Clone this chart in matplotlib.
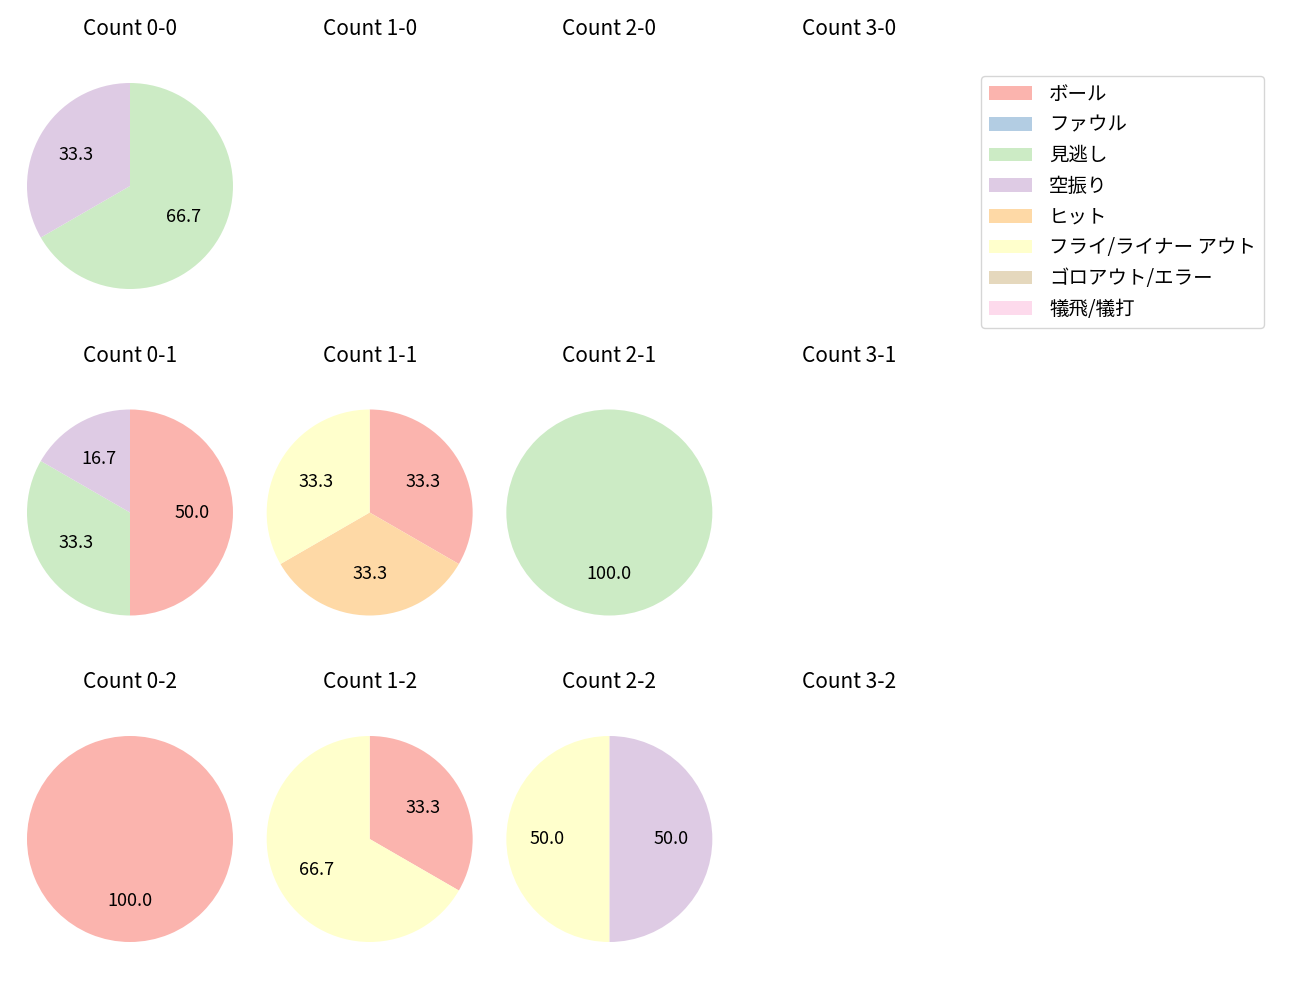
import matplotlib
matplotlib.use("Agg")
import matplotlib.pyplot as plt
from matplotlib.patches import Patch

plt.rcParams['font.family'] = ['Noto Sans CJK JP', 'DejaVu Sans']

categories = ["ボール", "ファウル", "見逃し", "空振り", "ヒット",
              "フライ/ライナー アウト", "ゴロアウト/エラー", "犠飛/犠打"]
colors = plt.get_cmap('Pastel1').colors[:len(categories)]

balls = [0, 1, 2, 3]
strikes = [0, 1, 2]

# counts per category for each ball-strike count (missing = no pitches)
counts = {
    (0, 0): [0, 0, 2, 1, 0, 0, 0, 0],
    (0, 1): [3, 0, 2, 1, 0, 0, 0, 0],
    (1, 1): [1, 0, 0, 0, 1, 1, 0, 0],
    (2, 1): [0, 0, 1, 0, 0, 0, 0, 0],
    (0, 2): [1, 0, 0, 0, 0, 0, 0, 0],
    (1, 2): [1, 0, 0, 0, 0, 2, 0, 0],
    (2, 2): [0, 0, 0, 1, 0, 1, 0, 0],
}

fig, axes = plt.subplots(3, 4, figsize=(13, 10), dpi=100)
# axes boxes 230x288 px, centred on the pie positions
fig.subplots_adjust(left=15 / 1300, right=964 / 1300, top=1 - 42 / 1000,
                    bottom=1 - 983 / 1000, wspace=9.7 / 230, hspace=38.5 / 288)

r_px = 103.0
for s in strikes:
    for b in balls:
        ax = axes[s][b]
        ax.set_title(f"Count {b}-{s}", fontsize=15, pad=5)
        vals = counts.get((b, s))
        if vals is not None:
            v = [x for x in vals if x > 0]
            c = [colors[i] for i, x in enumerate(vals) if x > 0]
            ax.pie(v, colors=c, startangle=90, counterclock=False,
                   autopct='%.1f', pctdistance=0.6, textprops={'fontsize': 13})
        ax.set_xlim(-115 / r_px, 115 / r_px)
        ax.set_ylim(-144 / r_px, 144 / r_px)
        ax.set_aspect('auto')
        ax.axis('off')

handles = [Patch(facecolor=colors[i], label=categories[i]) for i in range(len(categories))]
fig.legend(handles=handles, loc='upper left', bbox_to_anchor=(981 / 1300, 1 - 76 / 1000),
           fontsize=14, handlelength=2.2, handletextpad=0.9, borderaxespad=0)

fig.savefig("out.png")
